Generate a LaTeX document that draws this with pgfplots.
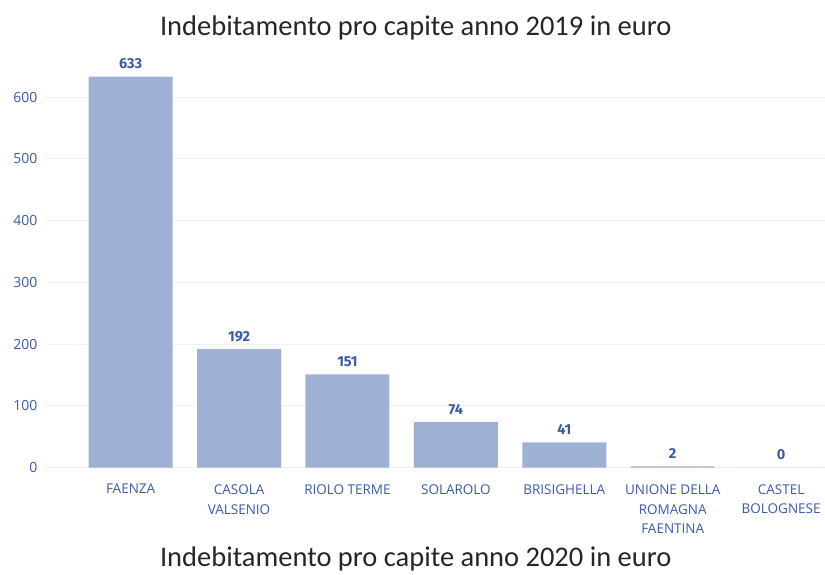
\documentclass[border=0pt]{standalone}
\usepackage{fontspec}
\setmainfont{Open Sans}
\newfontfamily\titlefont{Carlito}
\newfontfamily\valfont{Fira Sans}
\usepackage{pgfplots}
\pgfplotsset{compat=1.18}
\usetikzlibrary{calc}
\definecolor{barblue}{HTML}{9EB0D4}
\definecolor{txtblue}{HTML}{3B5BA5}
\definecolor{gridc}{HTML}{EFF0F6}

\begin{document}
\begin{tikzpicture}[x=1pt,y=1pt]
\begin{axis}[
 scale only axis,
 width=780pt, height=408pt,
 ybar, bar width=84pt,
 xmin=-0.79, xmax=6.40,
 ymin=0, ymax=660,
 axis line style={draw=none},
 ytick={0,100,...,600},
 ymajorgrids, grid style={gridc, line width=1pt},
 major tick length=0pt,
 xtick=data,
 xticklabels={FAENZA, CASOLA\\VALSENIO, RIOLO TERME, SOLAROLO, BRISIGHELLA, UNIONE DELLA\\ROMAGNA\\FAENTINA, CASTEL\\BOLOGNESE},
 x tick label style={align=center, font=\fontsize{13.5}{20}\selectfont, text=txtblue, yshift=-13pt, anchor=north},
 y tick label style={font=\fontsize{14}{16}\selectfont, text=txtblue, xshift=-4pt},
 /pgf/number format/assume math mode=true,
 nodes near coords,
 every node near coord/.append style={font=\valfont\bfseries\fontsize{14.5}{16}\selectfont, text=txtblue, yshift=4pt},
 clip=false,
]
\addplot[fill=barblue, draw=none] coordinates {(0,633) (1,192) (2,151) (3,74) (4,41) (5,2) (6,0)};
\coordinate (O) at (rel axis cs:0,0);
\end{axis}
\path[use as bounding box] ($(O)+(-45,-107)$) rectangle ++(825,575);
\node[font=\titlefont\fontsize{28.5}{32}\selectfont, text=black!85] at ($(O)+(-45,-107)+(416,547)$) {Indebitamento pro capite anno 2019 in euro};
\node[font=\titlefont\fontsize{28.5}{32}\selectfont, text=black!85, anchor=base, inner sep=0pt] at ($(O)+(-45,-107)+(416,8)$) {Indebitamento pro capite anno 2020 in euro};
\end{tikzpicture}
\end{document}
